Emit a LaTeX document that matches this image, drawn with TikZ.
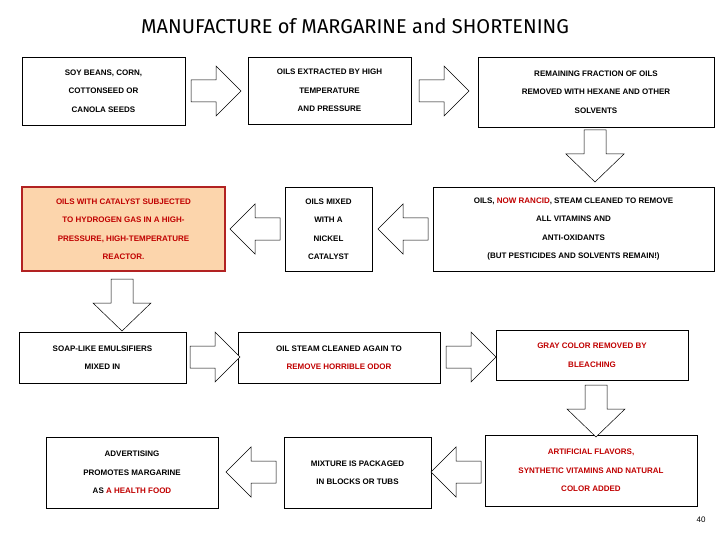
\documentclass[tikz,border=0pt]{standalone}
\usepackage{fontspec}
\setmainfont{Liberation Sans}
\newfontfamily\titlefont{Fira Sans}
\definecolor{txtred}{HTML}{C00000}
\definecolor{boxfill}{HTML}{FCD5AC}
\definecolor{boxdraw}{HTML}{B22222}
\begin{document}
\begin{tikzpicture}[x=1pt,y=-1pt,
  box/.style={draw=black,line width=0.6pt,align=center,font=\bfseries\fontsize{8}{18.5}\selectfont,inner sep=0pt},
  blk/.style={draw=black,line width=0.5pt,fill=white},
  pics/rarr/.style={code={\draw[blk] (0,-11)--(25,-11)--(25,-25)--(50,0)--(25,25)--(25,11)--(0,11)--cycle;}},
  pics/larr/.style={code={\draw[blk] (0,-11)--(-25,-11)--(-25,-25)--(-50,0)--(-25,25)--(-25,11)--(0,11)--cycle;}},
  pics/darr/.style={code={\draw[blk] (-11,0)--(-11,24)--(-29,24)--(0,52)--(29,24)--(11,24)--(11,0)--cycle;}}]
\useasboundingbox (0,0) rectangle (720,540);
\node[font=\titlefont\fontsize{20}{22}\selectfont] (title) at (355,26) {MANUFACTURE of MARGARINE and SHORTENING};
\node[box,minimum width=163,minimum height=68] (b1) at (103.5,91) {SOY BEANS, CORN,\\COTTONSEED OR\\CANOLA SEEDS};
\node[box,minimum width=163,minimum height=67] (b2) at (329.5,90.5) {OILS EXTRACTED BY HIGH\\TEMPERATURE\\AND PRESSURE};
\node[box,minimum width=236,minimum height=70] (b3) at (596,92) {REMAINING FRACTION OF OILS\\REMOVED WITH HEXANE AND OTHER\\SOLVENTS};
\node[box,draw=boxdraw,fill=boxfill,line width=1.4pt,minimum width=203,minimum height=84,text=txtred] (b4) at (123.5,229) {OILS WITH CATALYST SUBJECTED\\TO HYDROGEN GAS IN A HIGH-\\PRESSURE, HIGH-TEMPERATURE\\REACTOR.};
\node[box,minimum width=87,minimum height=84] (b5) at (328.5,229) {OILS MIXED\\WITH A\\NICKEL\\CATALYST};
\node[box,minimum width=281,minimum height=84] (b6) at (573.5,229) {OILS, \textcolor{txtred}{NOW RANCID}, STEAM CLEANED TO REMOVE\\ALL VITAMINS AND\\ANTI-OXIDANTS\\(BUT PESTICIDES AND SOLVENTS REMAIN!)};
\node[box,minimum width=167,minimum height=51] (b7) at (102.5,357.5) {SOAP-LIKE EMULSIFIERS\\MIXED IN};
\node[box,minimum width=202,minimum height=51] (b8) at (339,357.5) {OIL STEAM CLEANED AGAIN TO\\\textcolor{txtred}{REMOVE HORRIBLE ODOR}};
\node[box,minimum width=192,minimum height=50,text=txtred] (b9) at (592,355) {GRAY COLOR REMOVED BY\\BLEACHING};
\node[box,minimum width=172,minimum height=71] (b10) at (132,472.5) {ADVERTISING\\PROMOTES MARGARINE\\AS \textcolor{txtred}{A HEALTH FOOD}};
\node[box,minimum width=147,minimum height=71] (b11) at (357.5,472.5) {MIXTURE IS PACKAGED\\IN BLOCKS OR TUBS};
\node[box,minimum width=212,minimum height=71] (b12) at (591,470.5) {\textcolor{txtred}{ARTIFICIAL FLAVORS,}\\\textcolor{txtred}{SYNTHETIC VITAMINS AND NATURAL}\\\textcolor{txtred}{COLOR ADDED}};
\node[font=\fontsize{8}{9}\selectfont] (pg) at (701,520) {40};
\pic at (191,91) {rarr};
\pic at (419,91) {rarr};
\pic at (595,130) {darr};
\pic at (280,229) {larr};
\pic at (428,229) {larr};
\pic at (122,279) {darr};
\pic at (190,357) {rarr};
\pic at (446,357) {rarr};
\pic at (596,385) {darr};
\pic at (276,472) {larr};
\pic at (481,472) {larr};
\end{tikzpicture}
\end{document}
